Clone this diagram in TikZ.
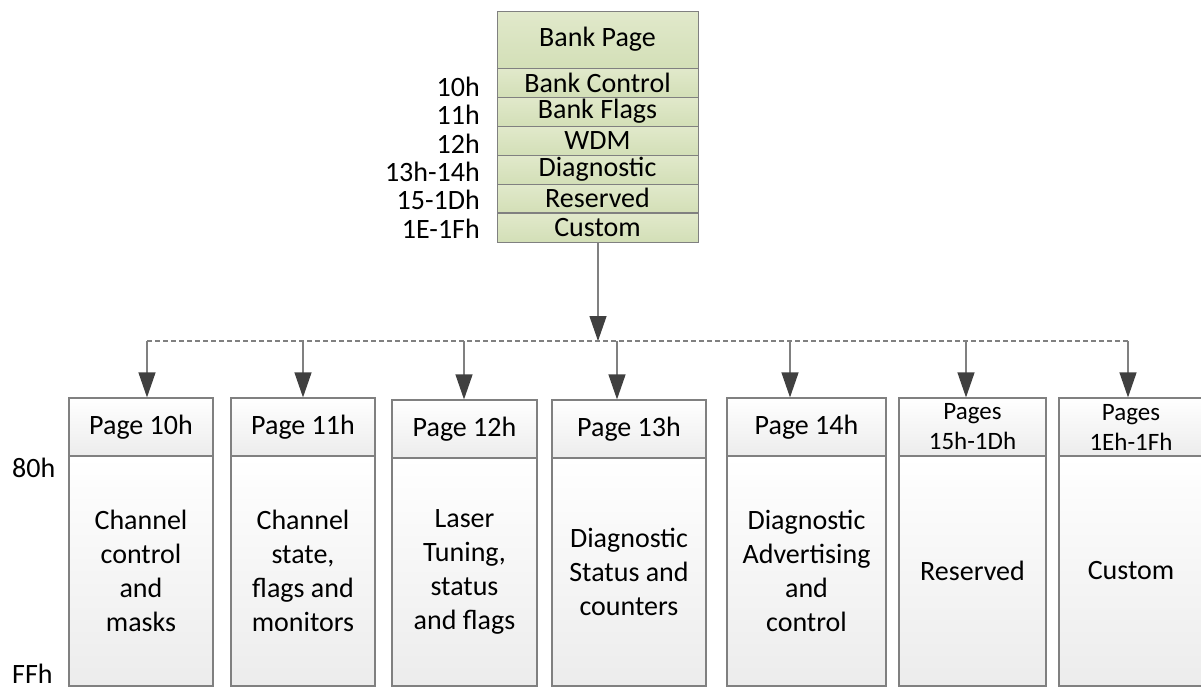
\documentclass[tikz,border=0pt]{standalone}
\usepackage{fontspec}
\setmainfont{Carlito}
\usetikzlibrary{arrows.meta}
\definecolor{bord}{HTML}{808080}
\definecolor{arr}{HTML}{404040}
\definecolor{gtop}{HTML}{E1E9CB}
\definecolor{gbot}{HTML}{D3DFB7}
\definecolor{wbot}{HTML}{ECECEC}
\tikzset{
  big/.style={font=\fontsize{28}{34}\selectfont},
  small/.style={font=\fontsize{25}{30}\selectfont},
  bank/.style={draw=bord, line width=1pt, top color=gtop, bottom color=gbot,
    minimum width=201pt, inner sep=0pt, big},
  hdr/.style={draw=bord, line width=1.2pt, top color=white, bottom color=wbot,
    inner sep=0pt, minimum height=58pt, align=center, big},
  body/.style={draw=bord, line width=1.2pt, top color=white, bottom color=wbot,
    inner sep=0pt, align=center, big},
  addr/.style={anchor=base east, inner sep=0pt, big},
  side/.style={anchor=base west, inner sep=0pt, text depth=0pt, big},
  conn/.style={draw=bord, line width=1.2pt, -{Triangle[length=25pt,width=17pt,color=arr]}},
  bus/.style={draw=bord, line width=1.2pt, dash pattern=on 5pt off 3pt},
}
\begin{document}
\begin{tikzpicture}[x=1pt,y=-1pt]
\useasboundingbox (0,0) rectangle (1201,689);

% top bank box
\node[bank, minimum height=57pt] (bp) at (597.5,39.5) {Bank Page};
\node[bank, minimum height=29pt] (bc) at (597.5,82.5) {Bank Control};
\node[bank, minimum height=29pt] (bf) at (597.5,111.5) {Bank Flags};
\node[bank, minimum height=29pt] (wd) at (597.5,140.5) {WDM};
\node[bank, minimum height=29pt] (dg) at (597.5,169.5) {Diagnostic};
\node[bank, minimum height=28pt] (rs) at (597.5,198) {Reserved};
\node[bank, minimum height=29pt] (cu) at (597.5,227.5) {Custom};

% address labels
\node[addr] (a1) at (480,96) {10h};
\node[addr] (a2) at (480,124.5) {11h};
\node[addr] (a3) at (480,153) {12h};
\node[addr] (a4) at (480,181) {13h-14h};
\node[addr] (a5) at (480,209.5) {15-1Dh};
\node[addr] (a6) at (480,238) {1E-1Fh};

% bottom page boxes
\node[hdr, minimum width=144pt] (h1) at (141,427) {Page 10h};
\node[body, minimum width=144pt, minimum height=230pt] (d1) at (141,571) {Channel\\control\\and\\masks};

\node[hdr, minimum width=144pt] (h2) at (303,427) {Page 11h};
\node[body, minimum width=144pt, minimum height=230pt] (d2) at (303,571) {Channel\\state,\\flags and\\monitors};

\node[hdr, minimum width=145pt] (h3) at (464.5,429) {Page 12h};
\node[body, minimum width=145pt, minimum height=228pt] (d3) at (464.5,572) {Laser\\Tuning,\\status\\and flags};

\node[hdr, minimum width=154pt] (h4) at (629,429) {Page 13h};
\node[body, minimum width=154pt, minimum height=228pt] (d4) at (629,572) {Diagnostic\\Status and\\counters};

\node[hdr, minimum width=159pt] (h5) at (806.5,427) {Page 14h};
\node[body, minimum width=159pt, minimum height=230pt] (d5) at (806.5,571) {Diagnostic\\Advertising\\and\\control};

\node[hdr, minimum width=147pt, small] (h6) at (972.5,427) {Pages\\15h-1Dh};
\node[body, minimum width=147pt, minimum height=230pt] (d6) at (972.5,571) {Reserved};

\node[hdr, minimum width=144pt, small] (h7) at (1131,427) {Pages\\1Eh-1Fh};
\node[body, minimum width=144pt, minimum height=230pt] (d7) at (1131,571) {Custom};

% side labels
\node[side] (s80) at (12,477) {80h};
\node[side] (sff) at (12,683) {FFh};

% bus coordinates
\coordinate (bm) at (598,341);
\coordinate (b1) at (147,341);
\coordinate (b2) at (303,341);
\coordinate (b3) at (464,341);
\coordinate (b4) at (617,341);
\coordinate (b5) at (790,341);
\coordinate (b6) at (966,341);
\coordinate (b7) at (1128,341);

% connectors
\draw[conn] (cu.south -| bm) -- (bm);
\draw[bus] (b1) -- (b7);
\draw[conn] (b1) -- (h1.north -| b1);
\draw[conn] (b2) -- (h2.north -| b2);
\draw[conn] (b3) -- (h3.north -| b3);
\draw[conn] (b4) -- (h4.north -| b4);
\draw[conn] (b5) -- (h5.north -| b5);
\draw[conn] (b6) -- (h6.north -| b6);
\draw[conn] (b7) -- (h7.north -| b7);
\end{tikzpicture}
\end{document}
